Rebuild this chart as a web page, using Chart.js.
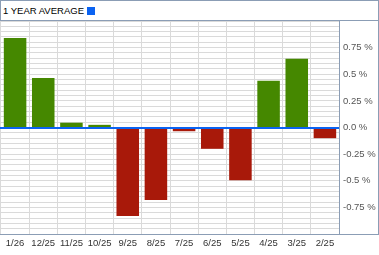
<!DOCTYPE html>
<html>
<head>
<meta charset="utf-8">
<script src="https://cdn.jsdelivr.net/npm/chart.js@4/dist/chart.umd.min.js"></script>
<style>
  body { margin: 0; background: #fff; }
  #wrap { position: relative; width: 379px; height: 255px; }
  #box { position: absolute; left: 0; top: 0; width: 379px; height: 235px; border: 1px solid #8b9db5; box-sizing: border-box; }
  #head { position: absolute; left: 0; top: 0; width: 379px; height: 21px; border-bottom: 1px solid #8b9db5; box-sizing: border-box;
          font: 9.5px "Liberation Sans", Arial, sans-serif; color: #000; line-height: 21px; padding-left: 3px; }
  #head span { display: inline-block; width: 8px; height: 8px; background: #0b63f2; margin-left: 3px; vertical-align: -1px; }
  #grafica { position: absolute; left: 0; top: 0; }
</style>
</head>
<body>
<div id="wrap">
  <div id="box"></div>
  <div id="head">1 YEAR AVERAGE<span></span></div>
  <canvas id="grafica" width="379" height="255"></canvas>
</div>
<script>
// meses y promedio (%)
const meses = ['1/26', '12/25', '11/25', '10/25', '9/25', '8/25', '7/25', '6/25', '5/25', '4/25', '3/25', '2/25'];
const valores = [0.84, 0.465, 0.045, 0.025, -0.83, -0.68, -0.035, -0.2, -0.495, 0.44, 0.645, -0.1];
const tickValores = [0.75, 0.5, 0.25, 0, -0.25, -0.5, -0.75];
const tickTextos = ['0.75 %', '0.5 %', '0.25 %', '0.0 %', '-0.25 %', '-0.5 %', '-0.75 %'];

const verde = '#458800';
const rojo = '#a8190a';

const lineaCero = {
    id: 'lineaCero',
    afterDatasetsDraw(chart) {
        const ctx = chart.ctx;
        const area = chart.chartArea;
        const y = Math.round(chart.scales.y.getPixelForValue(0)) - 1;
        ctx.save();
        ctx.fillStyle = '#0b63f2';
        ctx.fillRect(area.left - 1, y, area.right - area.left + 1, 2);
        ctx.restore();
    }
};

new Chart('grafica', {
    type: 'bar',
    data: {
        labels: meses,
        datasets: [{
            data: valores,
            backgroundColor: valores.map(v => v >= 0 ? verde : rojo),
            categoryPercentage: 0.8,
            barPercentage: 1
        }]
    },
    options: {
        responsive: false,
        animation: false,
        devicePixelRatio: 1,
        layout: { padding: { left: 1, top: 21, right: 0, bottom: 0 } },
        plugins: {
            legend: { display: false },
            tooltip: { enabled: false }
        },
        scales: {
            x: {
                offset: true,
                grid: { offset: true, color: '#dadada', drawTicks: false },
                border: { color: '#8b9db5' },
                ticks: {
                    color: '#333',
                    padding: 4,
                    maxRotation: 0,
                    autoSkip: false,
                    font: { family: '"Liberation Sans", Arial, sans-serif', size: 9.5 }
                },
                afterFit: (s) => { s.height = 21; }
            },
            y: {
                position: 'right',
                min: -1,
                max: 1,
                grid: { color: '#dadada', drawTicks: false },
                border: { color: '#8b9db5' },
                ticks: {
                    stepSize: 0.05,
                    autoSkip: false,
                    padding: 4,
                    color: '#555',
                    font: { family: '"Liberation Sans", Arial, sans-serif', size: 9.5 },
                    callback: function (v) {
                        const i = tickValores.findIndex(t => Math.abs(t - v) < 0.001);
                        return i >= 0 ? tickTextos[i] : '';
                    }
                },
                afterFit: (s) => { s.width = 40; }
            }
        }
    },
    plugins: [lineaCero]
});
</script>
</body>
</html>
